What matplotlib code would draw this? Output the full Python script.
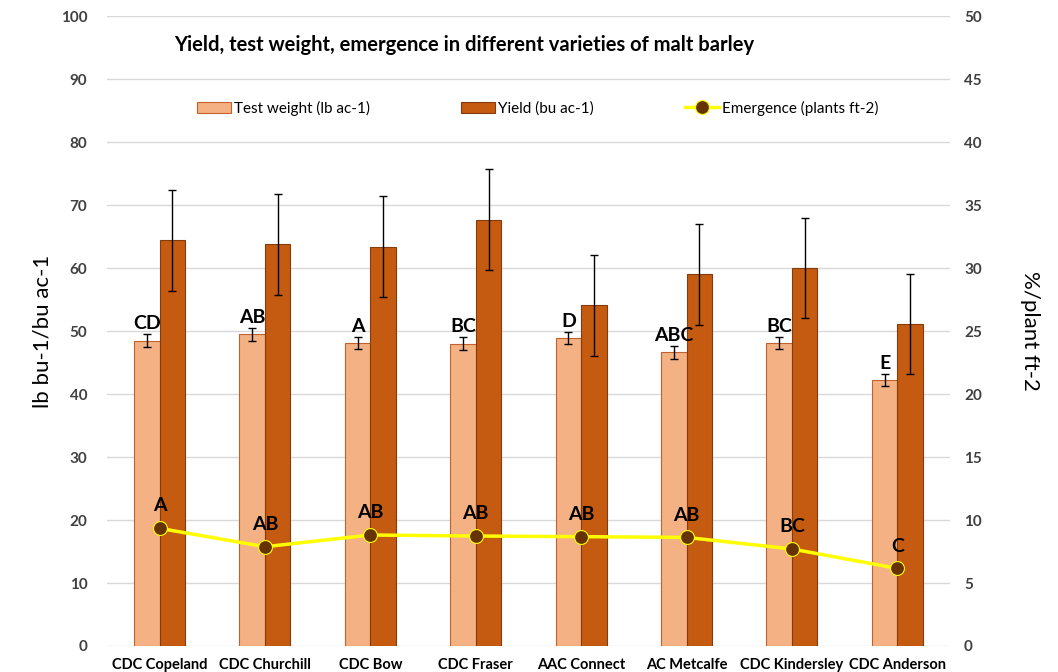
import matplotlib.pyplot as plt
import numpy as np

plt.rcParams['font.family'] = ['Lato', 'DejaVu Sans']

varieties = ['CDC Copeland', 'CDC Churchill', 'CDC Bow', 'CDC Fraser',
             'AAC Connect', 'AC Metcalfe', 'CDC Kindersley', 'CDC Anderson']
test_weight = [48.5, 49.5, 48.1, 48.0, 48.9, 46.6, 48.1, 42.2]
test_weight_err = [1.0, 1.0, 1.0, 1.0, 1.0, 1.0, 1.0, 1.0]
yield_bu = [64.4, 63.8, 63.4, 67.7, 54.1, 59.0, 60.0, 51.1]
yield_err = [8.0, 8.0, 8.0, 8.0, 8.0, 8.0, 8.0, 7.9]
emergence = [9.34, 7.88, 8.81, 8.73, 8.68, 8.62, 7.70, 6.16]
tw_letters = ['CD', 'AB', 'A', 'BC', 'D', 'ABC', 'BC', 'E']
em_letters = ['A', 'AB', 'AB', 'AB', 'AB', 'AB', 'BC', 'C']

x = np.arange(len(varieties))
w = 0.242

fig = plt.figure(figsize=(10.58, 6.72), dpi=100)
ax = fig.add_axes([0.101, 0.0387, 0.797, 0.9373])
ax2 = ax.twinx()

ax.bar(x - w / 2, test_weight, w, color='#F4B183', edgecolor='#C0622A', linewidth=0.8,
       label='Test weight (lb ac-1)', zorder=2)
ax.errorbar(x - w / 2, test_weight, yerr=test_weight_err, fmt='none', ecolor='black',
            elinewidth=1, capsize=3, zorder=3)
ax.bar(x + w / 2, yield_bu, w, color='#C55A11', edgecolor='#843C0C', linewidth=0.8,
       label='Yield (bu ac-1)', zorder=2)
ax.errorbar(x + w / 2, yield_bu, yerr=yield_err, fmt='none', ecolor='black',
            elinewidth=1, capsize=3, zorder=3)

for i in range(len(x)):
    ax.annotate(tw_letters[i], (x[i] - w / 2, test_weight[i] + test_weight_err[i]),
                xytext=(0, 1.5), textcoords='offset points', ha='center', va='bottom',
                fontsize=14, fontweight='bold')

ax2.plot(x, emergence, color='#FFFF00', linewidth=2.5, marker='o', markersize=10,
         markerfacecolor='#663300', markeredgecolor='#FFFF00', markeredgewidth=0.8,
         label='Emergence (plants ft-2)', zorder=4)
for i in range(len(x)):
    ax2.annotate(em_letters[i], (x[i], emergence[i]), xytext=(0, 10),
                 textcoords='offset points', ha='center', va='bottom',
                 fontsize=14, fontweight='bold')

ax.set_ylim(0, 100)
ax2.set_ylim(0, 50)
ax.set_xlim(-0.5, 7.5)
ax.set_yticks(np.arange(0, 101, 10))
ax2.set_yticks(np.arange(0, 51, 5))
ax.grid(axis='y', color='#D9D9D9', linewidth=1, zorder=0)
ax.set_axisbelow(True)

for a in (ax, ax2):
    for s in a.spines.values():
        s.set_visible(False)
    a.tick_params(length=0, labelsize=11, labelcolor='#404040')
    for lbl in a.get_yticklabels():
        lbl.set_fontweight('bold')

ax.tick_params(axis='y', pad=14)
ax2.tick_params(axis='y', pad=10)
ax.set_xticks(x)
ax.set_xticklabels(varieties, fontsize=10.5, fontweight='bold', color='black')
ax.tick_params(axis='x', pad=9)

ax.set_ylabel('lb bu-1/bu ac-1', fontsize=16, labelpad=6)
ax2.set_ylabel('%/plant ft-2', fontsize=16, rotation=270, labelpad=42)

ax.text(0.08, 0.97, 'Yield, test weight, emergence in different varieties of malt barley',
        transform=ax.transAxes, fontsize=14.5, fontweight='bold', va='top', ha='left')

h1, l1 = ax.get_legend_handles_labels()
h2, l2 = ax2.get_legend_handles_labels()
ax.legend(h1 + h2, l1 + l2, loc='center', bbox_to_anchor=(0.511, 0.854), ncol=3,
          frameon=False, fontsize=11, columnspacing=6, handlelength=2.2,
          handletextpad=0.2)

fig.savefig('out.png', dpi=100)
